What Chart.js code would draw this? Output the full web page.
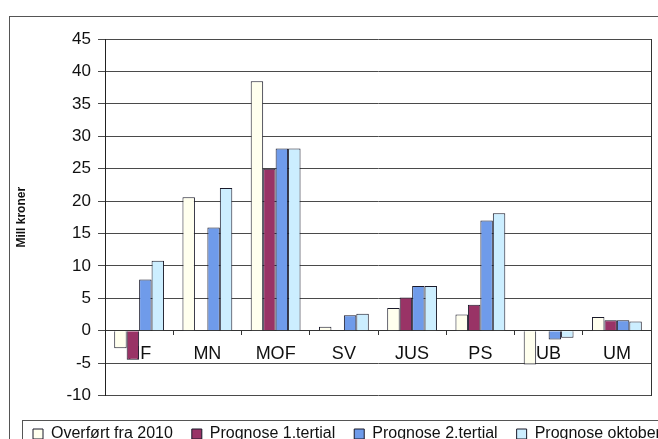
<!DOCTYPE html>
<html>
<head>
<meta charset="utf-8">
<script src="https://cdn.jsdelivr.net/npm/chart.js@4.4.1/dist/chart.umd.min.js"></script>
<style>
  html, body { margin: 0; padding: 0; background: #fff; overflow: hidden; }
  #wrap { position: absolute; left: 0; top: 0; width: 700px; height: 452px; }
</style>
</head>
<body>
<div id="wrap"><canvas id="myChart"></canvas></div>
<script>
const labels = ['HF', 'MN', 'MOF', 'SV', 'JUS', 'PS', 'UB', 'UM'];
const overfort = [-2.7, 20.6, 38.5, 0.6, 3.5, 2.5, -5.2, 2.1];
const prognose1 = [-4.5, null, 25, null, 5.1, 4.0, null, 1.6];
const prognose2 = [7.9, 15.9, 28.1, 2.4, 6.9, 17.0, -1.35, 1.6];
const prognoseOkt = [10.8, 22, 28.1, 2.6, 6.9, 18.1, -1.1, 1.4];
const yTicks = { min: -10, max: 45, step: 5 };

Chart.defaults.font.family = '"Liberation Sans", Arial, sans-serif';
Chart.defaults.color = '#111';

// rammer rundt diagrammet og forklaringen
const frames = {
  id: 'frames',
  beforeDraw(chart) {
    const ctx = chart.ctx;
    ctx.save();
    ctx.strokeStyle = '#555';
    ctx.lineWidth = 1;
    ctx.strokeRect(9.5, 16.5, chart.width, chart.height);
    const lg = chart.legend;
    ctx.strokeRect(22.5, Math.round(lg.top) + 24.5, chart.width, 100);
    ctx.restore();
  }
};

const bar = (label, data, color) => ({
  label,
  data,
  backgroundColor: color,
  borderColor: '#1a1a2a',
  borderWidth: 1,
  categoryPercentage: 0.73,
  barPercentage: 1
});

const myChart = new Chart(document.getElementById('myChart'), {
  type: 'bar',
  data: {
    labels,
    datasets: [
      bar('Overført fra 2010', overfort, '#FFFFEE'),
      bar('Prognose 1.tertial', prognose1, '#993366'),
      bar('Prognose 2.tertial', prognose2, '#6F9BEA'),
      bar('Prognose oktober', prognoseOkt, '#CCEEFF')
    ]
  },
  options: {
    responsive: true,
    maintainAspectRatio: false,
    animation: false,
    layout: { padding: { left: 14, top: 39, right: 0, bottom: 0 } },
    plugins: {
      tooltip: { enabled: false },
      legend: {
        position: 'bottom',
        align: 'start',
        title: { display: true, text: '', font: { size: 11.5, lineHeight: 1 }, padding: 0 },
        labels: {
          boxWidth: 10,
          boxHeight: 10,
          padding: 19,
          color: '#111',
          font: { size: 16 }
        }
      }
    },
    scales: {
      x: {
        position: { y: 0 },
        grid: { drawOnChartArea: false, drawTicks: true, tickLength: 4, color: '#333' },
        border: { color: '#333' },
        ticks: { font: { size: 18 }, padding: 9, color: '#111' }
      },
      y: {
        min: yTicks.min,
        max: yTicks.max,
        grid: { color: '#4a4a4a', tickLength: 7 },
        border: { color: '#222' },
        ticks: { stepSize: yTicks.step, font: { size: 17 }, padding: 7, color: '#111' },
        title: {
          display: true,
          text: 'Mill kroner',
          font: { size: 12, weight: 'bold' },
          color: '#111',
          padding: { top: 0, bottom: 4 }
        },
        afterFit(scale) { scale.width = 91; }
      },
      yR: {
        position: 'right',
        grid: { display: false },
        border: { color: '#333' },
        ticks: { display: false },
        afterFit(scale) { scale.width = 49; }
      }
    }
  },
  plugins: [frames]
});
</script>
</body>
</html>
